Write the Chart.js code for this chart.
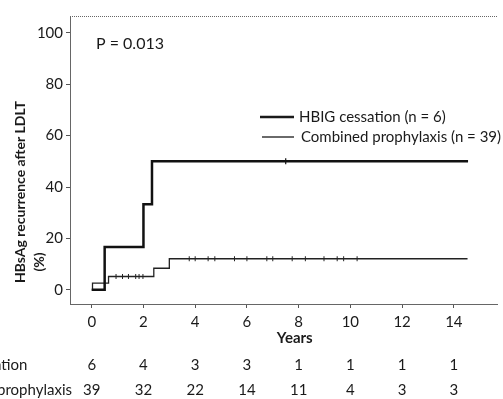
<!DOCTYPE html>
<html>
<head>
<meta charset="utf-8">
<script src="https://cdn.jsdelivr.net/npm/chart.js@4.4.1/dist/chart.umd.min.js"></script>
<style>
  html, body { margin: 0; padding: 0; background: #fff; }
  #wrap { width: 503px; height: 399px; }
</style>
</head>
<body>
<div id="wrap"><canvas id="km-chart"></canvas></div>
<script>
// Kaplan-Meier data (years, % recurrence)
const hbigTimes = [0, 0.5, 2.0, 2.33, 14.55];
const hbigValues = [0, 16.7, 33.3, 50, 50];
const hbigCensored = [7.5];

const comboTimes = [0, 0.03, 0.65, 2.4, 3.0, 14.53];
const comboValues = [0, 2.6, 5.2, 8.4, 12.1, 12.1];
const comboCensored = [0.94, 1.19, 1.42, 1.7, 1.83, 1.98, 3.77, 4.0, 4.5, 4.76, 5.52, 6.0,
    6.77, 7.0, 7.75, 8.26, 8.98, 9.49, 9.74, 10.26];

const xTicks = [0, 2, 4, 6, 8, 10, 12, 14];
const yTicks = [0, 20, 40, 60, 80, 100];

// Number at risk table
const riskLabels = ["HBIG cessation", "Combined prophylaxis"];
const riskHbig = [6, 4, 3, 3, 1, 1, 1, 1];
const riskCombo = [39, 32, 22, 14, 11, 4, 3, 3];

const legendLabels = ["HBIG cessation (n = 6)", "Combined prophylaxis (n = 39)"];
const pValueText = "P = 0.013";

const FONT = "Lato, 'Open Sans', sans-serif";
const INK = "#1a1a1a";

// value of a step curve at time t
function stepValue(times, values, t) {
    let v = values[0];
    for (let i = 0; i < times.length; i++) {
        if (times[i] <= t) v = values[i];
    }
    return v;
}

const toPoints = (xs, ys) => xs.map((x, i) => ({ x: x, y: ys[i] }));

// Extra drawing: frame top, p value, legend, axis titles, risk table
const annotations = {
    id: "annotations",
    afterDraw(chart) {
        const ctx = chart.ctx;
        const area = chart.chartArea;
        const xs = chart.scales.x;
        ctx.save();

        // dotted top border
        ctx.strokeStyle = "#666";
        ctx.lineWidth = 1;
        ctx.setLineDash([1, 1]);
        ctx.beginPath();
        ctx.moveTo(area.left, area.top + 0.5);
        ctx.lineTo(area.right, area.top + 0.5);
        ctx.stroke();
        ctx.setLineDash([]);

        ctx.fillStyle = INK;
        ctx.textBaseline = "middle";
        ctx.textAlign = "left";
        ctx.font = "16px " + FONT;
        ctx.fillText(pValueText, area.left + 26, area.top + 28);

        // legend
        ctx.font = "15px " + FONT;
        const legendX = area.left + 190;
        const legendY = [area.top + 101, area.top + 121];
        const widths = [2.5, 1.3];
        for (let i = 0; i < legendLabels.length; i++) {
            ctx.strokeStyle = INK;
            ctx.lineWidth = widths[i];
            ctx.beginPath();
            ctx.moveTo(legendX + i * 2, legendY[i]);
            ctx.lineTo(legendX + 34, legendY[i]);
            ctx.stroke();
            ctx.fillText(legendLabels[i], legendX + 39 + i * 2, legendY[i]);
        }

        // y axis title
        ctx.save();
        ctx.translate(20, 283);
        ctx.rotate(-Math.PI / 2);
        ctx.font = "bold 14px " + FONT;
        ctx.textAlign = "left";
        ctx.fillText("HBsAg recurrence after LDLT", 0, 0);
        ctx.textAlign = "center";
        ctx.fillText("(%)", 21, 19);
        ctx.restore();

        // x axis title
        ctx.font = "bold 15px " + FONT;
        ctx.textAlign = "center";
        ctx.fillText("Years", xs.getPixelForValue(7.85), area.bottom + 34);

        // number at risk
        ctx.font = "15px " + FONT;
        const labelX = 72 - ctx.measureText(riskLabels[1]).width;
        const rows = [riskHbig, riskCombo];
        const rowY = [area.bottom + 61, area.bottom + 86];
        for (let r = 0; r < rows.length; r++) {
            ctx.textAlign = "left";
            ctx.fillText(riskLabels[r], labelX, rowY[r]);
            ctx.textAlign = "center";
            rows[r].forEach((n, i) => {
                ctx.fillText(String(n), xs.getPixelForValue(xTicks[i]), rowY[r]);
            });
        }
        ctx.restore();
    }
};

const ctx = document.getElementById("km-chart").getContext("2d");

new Chart(ctx, {
    type: "line",
    data: {
        datasets: [
            {
                label: legendLabels[0],
                data: toPoints(hbigTimes, hbigValues),
                stepped: true,
                borderColor: "#111",
                borderWidth: 2.5,
                pointRadius: 0,
                fill: false,
            },
            {
                label: legendLabels[1],
                data: toPoints(comboTimes, comboValues),
                stepped: true,
                borderColor: "#222",
                borderWidth: 1.3,
                pointRadius: 0,
                fill: false,
            },
            {
                label: "censored 1",
                data: hbigCensored.map(t => ({ x: t, y: stepValue(hbigTimes, hbigValues, t) })),
                showLine: false,
                pointStyle: "line",
                rotation: 90,
                pointRadius: 3,
                borderColor: "#111",
                borderWidth: 1.2,
            },
            {
                label: "censored 2",
                data: comboCensored.map(t => ({ x: t, y: stepValue(comboTimes, comboValues, t) })),
                showLine: false,
                pointStyle: "line",
                rotation: 90,
                pointRadius: 2.5,
                borderColor: "#222",
                borderWidth: 1,
            },
        ]
    },
    options: {
        responsive: true,
        maintainAspectRatio: false,
        animation: false,
        events: [],
        layout: { padding: { top: 16, right: 0, left: 0, bottom: 0 } },
        plugins: {
            legend: { display: false },
            tooltip: { enabled: false },
        },
        scales: {
            x: {
                type: "linear",
                min: -0.84,
                max: 15.7,
                afterBuildTicks: (s) => { s.ticks = xTicks.map(v => ({ value: v })); },
                afterFit: (s) => { s.height = 95; },
                grid: { drawOnChartArea: false, tickLength: 4, color: "#555" },
                border: { color: "#666", width: 1, dash: [1, 1] },
                ticks: { color: INK, font: { family: FONT, size: 15 }, padding: 5, maxRotation: 0, autoSkip: false },
            },
            y: {
                min: -5.5,
                max: 106.5,
                afterBuildTicks: (s) => { s.ticks = yTicks.map(v => ({ value: v })); },
                afterFit: (s) => { s.width = 70; },
                grid: { drawOnChartArea: false, tickLength: 4, color: "#555" },
                border: { color: "#666", width: 1, dash: [1, 1] },
                ticks: { color: INK, font: { family: FONT, size: 15 }, padding: 3 },
            },
        },
    },
    plugins: [annotations],
});
</script>
</body>
</html>
